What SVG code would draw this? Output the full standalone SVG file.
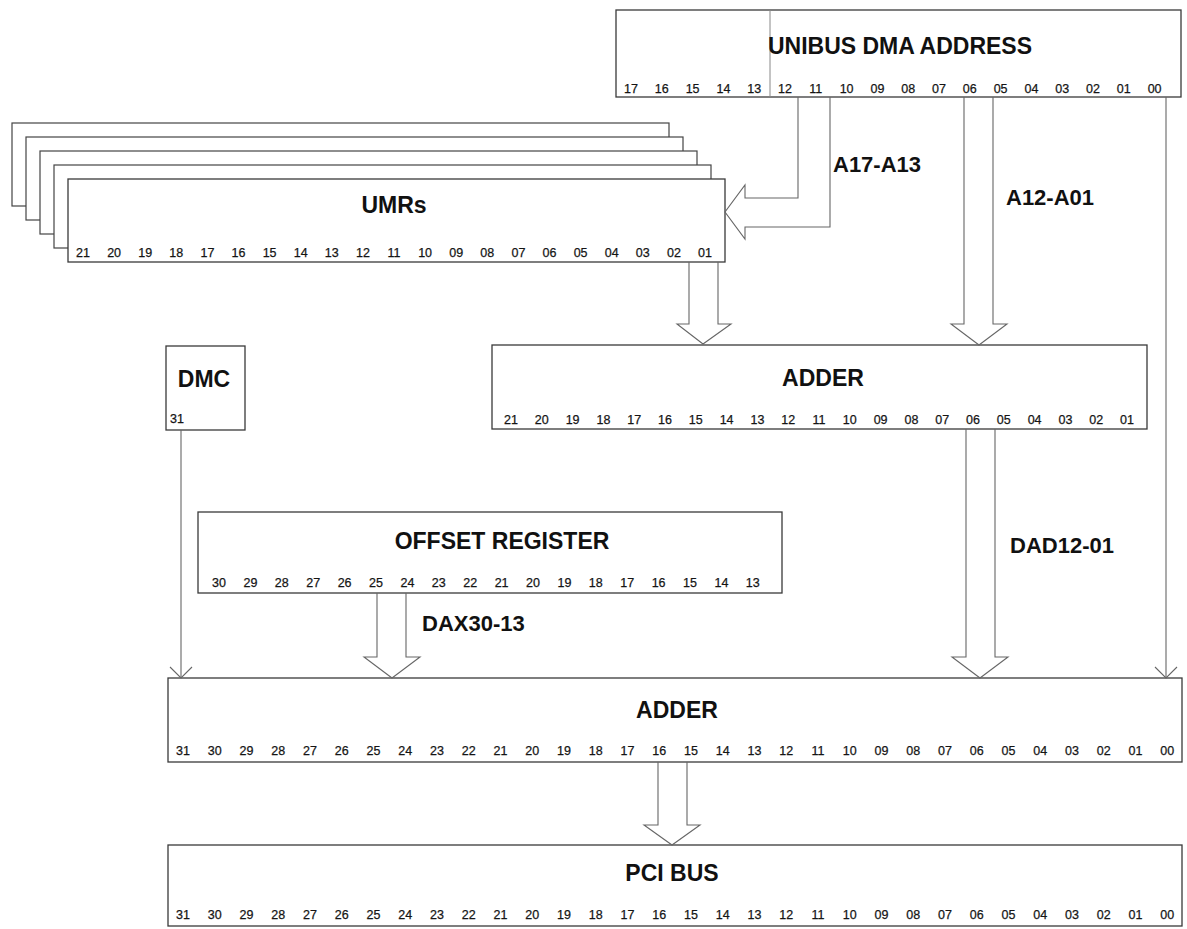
<svg xmlns="http://www.w3.org/2000/svg" width="1187" height="929" viewBox="0 0 1187 929">
<style>
.box{fill:#fff;stroke:#3a3a3a;stroke-width:1.3}
.back{fill:#fff;stroke:#444;stroke-width:1.2}
.div{stroke:#888;stroke-width:1;fill:none}
.conn{fill:none;stroke:#666;stroke-width:1.1;stroke-linejoin:miter}
.t{font-family:"Liberation Sans",Arial,sans-serif;font-weight:bold;font-size:23px;fill:#111;text-anchor:middle}
.lbl{font-family:"Liberation Sans",Arial,sans-serif;font-weight:bold;font-size:22px;fill:#111}
.b{font-family:"Liberation Sans",Arial,sans-serif;font-size:12.5px;fill:#151515;stroke:#151515;stroke-width:0.25;text-anchor:middle}
</style>
<rect width="1187" height="929" fill="#fff"/>

<g id="unibus">
<rect class="box" x="616" y="10" width="565" height="87"/>
<line class="div" x1="770" y1="10" x2="770" y2="97"/>
<text class="t" x="900" y="54">UNIBUS DMA ADDRESS</text>
<text class="b" y="93"><tspan x="631">17</tspan><tspan x="661.8">16</tspan><tspan x="692.6">15</tspan><tspan x="723.4">14</tspan><tspan x="754.2">13</tspan><tspan x="785">12</tspan><tspan x="815.8">11</tspan><tspan x="846.6">10</tspan><tspan x="877.4">09</tspan><tspan x="908.2">08</tspan><tspan x="939">07</tspan><tspan x="969.8">06</tspan><tspan x="1000.6">05</tspan><tspan x="1031.4">04</tspan><tspan x="1062.2">03</tspan><tspan x="1093">02</tspan><tspan x="1123.8">01</tspan><tspan x="1154.6">00</tspan></text>
</g>

<g id="umrs">
<rect class="back" x="12" y="123" width="657" height="83"/>
<rect class="back" x="26" y="137" width="657" height="83"/>
<rect class="back" x="40" y="151" width="657" height="83"/>
<rect class="back" x="54" y="165" width="657" height="83"/>
<rect class="box" x="68" y="179" width="657" height="83"/>
<text class="t" x="394" y="213">UMRs</text>
<text class="b" y="257"><tspan x="83">21</tspan><tspan x="114.1">20</tspan><tspan x="145.2">19</tspan><tspan x="176.3">18</tspan><tspan x="207.4">17</tspan><tspan x="238.5">16</tspan><tspan x="269.6">15</tspan><tspan x="300.7">14</tspan><tspan x="331.8">13</tspan><tspan x="362.9">12</tspan><tspan x="394">11</tspan><tspan x="425.1">10</tspan><tspan x="456.2">09</tspan><tspan x="487.3">08</tspan><tspan x="518.4">07</tspan><tspan x="549.5">06</tspan><tspan x="580.6">05</tspan><tspan x="611.7">04</tspan><tspan x="642.8">03</tspan><tspan x="673.9">02</tspan><tspan x="705">01</tspan></text>
</g>

<g id="dmc">
<rect class="box" x="166" y="346" width="79" height="84"/>
<text class="t" x="204" y="387">DMC</text>
<text class="b" x="170" y="423" style="text-anchor:start">31</text>
</g>

<g id="adder1">
<rect class="box" x="492" y="345" width="655" height="84"/>
<text class="t" x="823" y="386">ADDER</text>
<text class="b" y="424"><tspan x="511">21</tspan><tspan x="541.8">20</tspan><tspan x="572.6">19</tspan><tspan x="603.4">18</tspan><tspan x="634.2">17</tspan><tspan x="665">16</tspan><tspan x="695.8">15</tspan><tspan x="726.6">14</tspan><tspan x="757.4">13</tspan><tspan x="788.2">12</tspan><tspan x="819">11</tspan><tspan x="849.8">10</tspan><tspan x="880.6">09</tspan><tspan x="911.4">08</tspan><tspan x="942.2">07</tspan><tspan x="973">06</tspan><tspan x="1003.8">05</tspan><tspan x="1034.6">04</tspan><tspan x="1065.4">03</tspan><tspan x="1096.2">02</tspan><tspan x="1127">01</tspan></text>
</g>

<g id="offset">
<rect class="box" x="198" y="512" width="584" height="81"/>
<text class="t" x="502" y="549">OFFSET REGISTER</text>
<text class="b" y="587"><tspan x="219">30</tspan><tspan x="250.4">29</tspan><tspan x="281.8">28</tspan><tspan x="313.2">27</tspan><tspan x="344.6">26</tspan><tspan x="376">25</tspan><tspan x="407.4">24</tspan><tspan x="438.8">23</tspan><tspan x="470.2">22</tspan><tspan x="501.6">21</tspan><tspan x="533">20</tspan><tspan x="564.4">19</tspan><tspan x="595.8">18</tspan><tspan x="627.2">17</tspan><tspan x="658.6">16</tspan><tspan x="690">15</tspan><tspan x="721.4">14</tspan><tspan x="752.8">13</tspan></text>
</g>

<g id="adder2">
<rect class="box" x="168" y="678" width="1014" height="84"/>
<text class="t" x="677" y="718">ADDER</text>
<text class="b" y="755"><tspan x="183">31</tspan><tspan x="214.75">30</tspan><tspan x="246.5">29</tspan><tspan x="278.25">28</tspan><tspan x="310">27</tspan><tspan x="341.75">26</tspan><tspan x="373.5">25</tspan><tspan x="405.25">24</tspan><tspan x="437">23</tspan><tspan x="468.75">22</tspan><tspan x="500.5">21</tspan><tspan x="532.25">20</tspan><tspan x="564">19</tspan><tspan x="595.75">18</tspan><tspan x="627.5">17</tspan><tspan x="659.25">16</tspan><tspan x="691">15</tspan><tspan x="722.75">14</tspan><tspan x="754.5">13</tspan><tspan x="786.25">12</tspan><tspan x="818">11</tspan><tspan x="849.75">10</tspan><tspan x="881.5">09</tspan><tspan x="913.25">08</tspan><tspan x="945">07</tspan><tspan x="976.75">06</tspan><tspan x="1008.5">05</tspan><tspan x="1040.25">04</tspan><tspan x="1072">03</tspan><tspan x="1103.75">02</tspan><tspan x="1135.5">01</tspan><tspan x="1167.25">00</tspan></text>
</g>

<g id="pci">
<rect class="box" x="168" y="845" width="1014" height="81"/>
<text class="t" x="672" y="881">PCI BUS</text>
<text class="b" y="919"><tspan x="183">31</tspan><tspan x="214.75">30</tspan><tspan x="246.5">29</tspan><tspan x="278.25">28</tspan><tspan x="310">27</tspan><tspan x="341.75">26</tspan><tspan x="373.5">25</tspan><tspan x="405.25">24</tspan><tspan x="437">23</tspan><tspan x="468.75">22</tspan><tspan x="500.5">21</tspan><tspan x="532.25">20</tspan><tspan x="564">19</tspan><tspan x="595.75">18</tspan><tspan x="627.5">17</tspan><tspan x="659.25">16</tspan><tspan x="691">15</tspan><tspan x="722.75">14</tspan><tspan x="754.5">13</tspan><tspan x="786.25">12</tspan><tspan x="818">11</tspan><tspan x="849.75">10</tspan><tspan x="881.5">09</tspan><tspan x="913.25">08</tspan><tspan x="945">07</tspan><tspan x="976.75">06</tspan><tspan x="1008.5">05</tspan><tspan x="1040.25">04</tspan><tspan x="1072">03</tspan><tspan x="1103.75">02</tspan><tspan x="1135.5">01</tspan><tspan x="1167.25">00</tspan></text>
</g>

<g id="connectors">
<polyline class="conn" points="798,97 798,198 745,198 745,185 725,212 745,239 745,227 830,227 830,97"/>
<polyline class="conn" points="689,262 689,324 677,324 703,344 731,324 718,324 718,262"/>
<polyline class="conn" points="964,97 964,324 951,324 979,345 1007,324 993,324 993,97"/>
<line class="conn" x1="1166" y1="97" x2="1166" y2="678"/>
<polyline class="conn" points="1155,667 1166,678 1177,667"/>
<line class="conn" x1="181" y1="430" x2="181" y2="678"/>
<polyline class="conn" points="170,667 181,678 192,667"/>
<polyline class="conn" points="377,593 377,657 364,657 392,678 420,657 406,657 406,593"/>
<polyline class="conn" points="966,429 966,657 952,657 980,678 1008,657 995,657 995,429"/>
<polyline class="conn" points="658,762 658,825 644,825 672,845 700,825 687,825 687,762"/>
<text class="lbl" x="833" y="172">A17-A13</text>
<text class="lbl" x="1006" y="205">A12-A01</text>
<text class="lbl" x="1010" y="553">DAD12-01</text>
<text class="lbl" x="422" y="631">DAX30-13</text>
</g>
</svg>
